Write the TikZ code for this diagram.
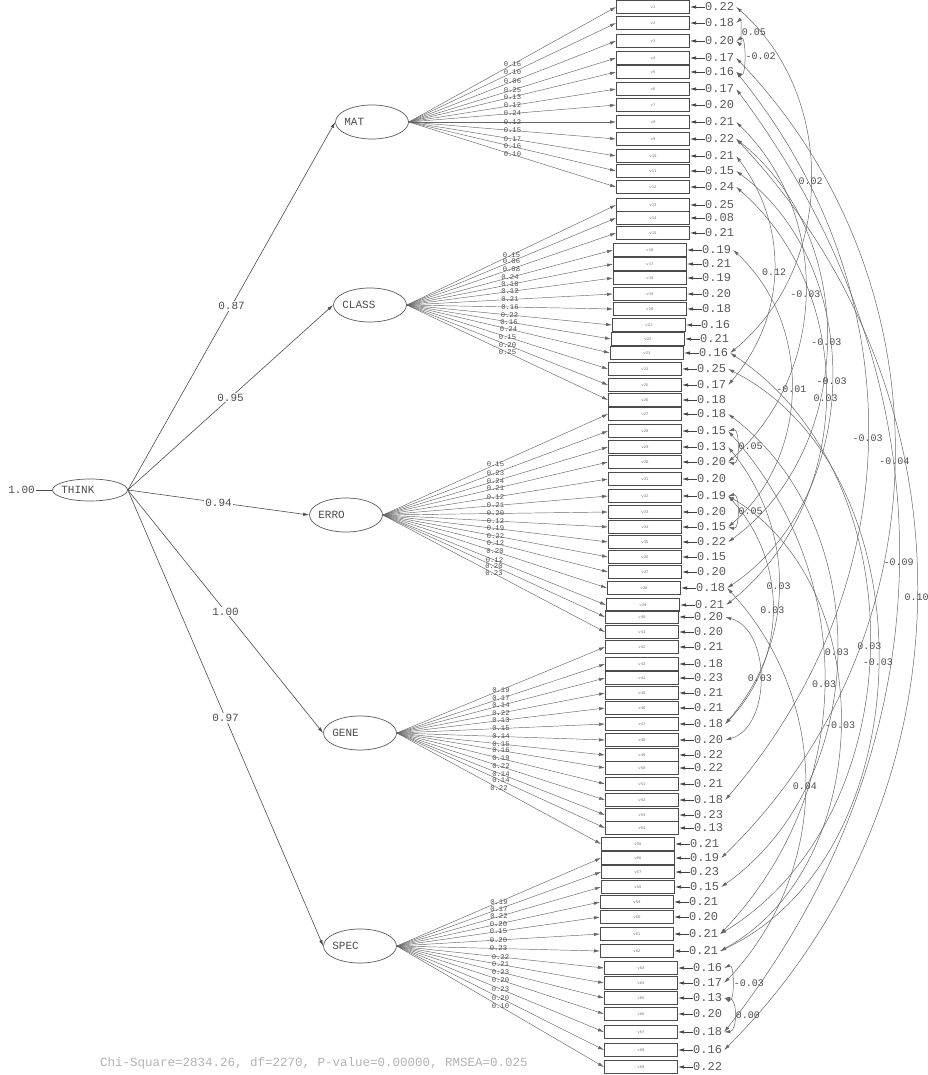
\documentclass[tikz,border=0pt]{standalone}
\usepackage{fontspec}
\newfontfamily\cour{Liberation Mono}
\usetikzlibrary{arrows.meta,shapes.geometric,calc}
\begin{document}
\begin{tikzpicture}[x=1pt,y=-1pt,
  >={Latex[length=6pt,width=3.4pt]},
  latent/.style={draw=black!65,line width=0.7pt,ellipse,minimum width=73pt,minimum height=34pt,inner sep=0pt},
  obsbox/.style={draw=black!70,line width=1pt,rectangle,minimum width=73pt,minimum height=13pt,inner sep=0pt,font=\cour\fontsize{4}{4}\selectfont,text=black!55},
  flab/.style={font=\cour\fontsize{11}{11}\selectfont,text=black!70,anchor=west,inner sep=0pt},
  pathline/.style={draw=black!70,line width=0.6pt,->},
  pathlab/.style={font=\cour\fontsize{11}{11}\selectfont,text=black!70,fill=white,inner sep=1pt},
  loadline/.style={draw=black!60,line width=0.45pt,->},
  loadlab/.style={font=\cour\fontsize{7.2}{7.2}\selectfont,text=black!70,inner sep=0pt},
  reslab/.style={font=\cour\fontsize{12}{12}\selectfont,text=black!65,anchor=west,inner sep=0pt},
  resline/.style={draw=black!75,line width=0.7pt,->},
  covline/.style={draw=black!60,line width=0.5pt,<->},
  covlab/.style={font=\cour\fontsize{10}{10}\selectfont,text=black!70,inner sep=0.5pt},
  sidelab/.style={anchor=west,xshift=1pt}
]
\useasboundingbox (0,0) rectangle (927,1075);

% latent variables
\node[latent,minimum width=75pt,minimum height=22pt] (THINK) at (90,490) {};
\node[flab] (THINKt) at ([xshift=9pt]THINK.west) {THINK};
\node[pathlab,fill=none,anchor=east] (thvar) at (36,490) {1.00};
\draw[draw=black!70,line width=0.6pt] (thvar) -- (THINK);

\node[latent] (MAT) at (372,122) {};
\node[flab] (MATt) at ([xshift=9pt]MAT.west) {MAT};
\node[latent] (CLASS) at (370,305) {};
\node[flab] (CLASSt) at ([xshift=9pt]CLASS.west) {CLASS};
\node[latent] (ERRO) at (346,515) {};
\node[flab] (EROt) at ([xshift=9pt]ERRO.west) {ERRO};
\node[latent] (GENE) at (360,733) {};
\node[flab] (GENEt) at ([xshift=9pt]GENE.west) {GENE};
\node[latent] (SPEC) at (360,946) {};
\node[flab] (SPECt) at ([xshift=9pt]SPEC.west) {SPEC};

\draw[pathline] (THINK.east) -- node[pathlab]{0.87} (MAT.west);
\draw[pathline] (THINK.east) -- node[pathlab]{0.95} (CLASS.west);
\draw[pathline] (THINK.east) -- node[pathlab]{0.94} (ERRO.west);
\draw[pathline] (THINK.east) -- node[pathlab]{1.00} (GENE.west);
\draw[pathline] (THINK.east) -- node[pathlab]{0.97} (SPEC.west);

% observed variables
\foreach \c/\y/\bx/\f/\L/\R in {
0/7/653/MAT/0.16/0.22, 1/23/653/MAT/0.10/0.18, 2/41/653/MAT/0.06/0.20,
3/58/653/MAT/0.25/0.17, 4/72/653/MAT/0.13/0.16, 5/89/653/MAT/0.12/0.17,
6/105/653/MAT/0.24/0.20, 7/122/653/MAT/0.12/0.21, 8/139/653/MAT/0.15/0.22,
9/156/653/MAT/0.17/0.21, 10/171/653/MAT/0.16/0.15, 11/187/653/MAT/0.10/0.24,
12/205/653/CLASS/0.15/0.25, 13/218/653/CLASS/0.06/0.08, 14/233/653/CLASS/0.08/0.21,
15/250/650/CLASS/0.24/0.19, 16/264/650/CLASS/0.18/0.21, 17/278/650/CLASS/0.12/0.19,
18/294/650/CLASS/0.21/0.20, 19/309/650/CLASS/0.16/0.18, 20/325/649/CLASS/0.22/0.16,
21/339/648/CLASS/0.16/0.21, 22/353/647/CLASS/0.24/0.16, 23/369/645/CLASS/0.15/0.25,
24/385/645/CLASS/0.20/0.17, 25/400/645/CLASS/0.25/0.18,
26/414/645/ERRO/0.15/0.18, 27/431/645/ERRO/0.23/0.15, 28/447/645/ERRO/0.24/0.13,
29/462/645/ERRO/0.21/0.20, 30/479/645/ERRO/0.12/0.20, 31/496/645/ERRO/0.21/0.19,
32/512/645/ERRO/0.20/0.20, 33/527/645/ERRO/0.12/0.15, 34/542/645/ERRO/0.19/0.22,
35/557/645/ERRO/0.22/0.15, 36/572/645/ERRO/0.12/0.20, 37/588/644/ERRO/0.20/0.18,
38/605/643/ERRO/0.12/0.21, 39/617/642/ERRO/0.20/0.20, 40/632/642/ERRO/0.23/0.20,
41/647/642/GENE/0.19/0.21, 42/664/642/GENE/0.17/0.18, 43/678/642/GENE/0.14/0.23,
44/693/642/GENE/0.22/0.21, 45/708/642/GENE/0.13/0.21, 46/724/642/GENE/0.15/0.18,
47/740/642/GENE/0.14/0.20, 48/755/642/GENE/0.15/0.22, 49/768/642/GENE/0.16/0.22,
50/784/642/GENE/0.19/0.21, 51/800/642/GENE/0.22/0.18, 52/815/642/GENE/0.14/0.23,
53/828/642/GENE/0.14/0.13, 54/844/638/GENE/0.22/0.21,
55/858/638/SPEC/0.19/0.19, 56/872/638/SPEC/0.17/0.23, 57/887/638/SPEC/0.22/0.15,
58/902/637/SPEC/0.20/0.21, 59/917/637/SPEC/0.15/0.20, 60/934/637/SPEC/0.20/0.21,
61/951/637/SPEC/0.23/0.21, 62/968/641/SPEC/0.22/0.16, 63/983/641/SPEC/0.21/0.17,
64/998/641/SPEC/0.23/0.13, 65/1014/641/SPEC/0.20/0.20, 66/1032/641/SPEC/0.23/0.18,
67/1050/641/SPEC/0.20/0.16, 68/1067/641/SPEC/0.10/0.22}{
  \pgfmathtruncatemacro\vn{\c+1}
  \node[obsbox] (b\c) at (\bx,\y) {v\vn};
  \draw[loadline] (\f.east) -- node[loadlab,pos=0.5]{\L} (b\c.west);
  \node[reslab] (r\c) at ([xshift=15pt]b\c.east) {\R};
  \draw[resline] (r\c.west) -- (b\c.east);
  \coordinate (e\c) at ([xshift=2pt]r\c.east);
}

% error covariances
\newcommand\covarc[5][]{%
  \draw[covline] let \p1=(e#2), \p2=(e#3), \n1={2*atan(2*#4/((\y1)-(\y2)))} in
    (e#2) to[bend left=\n1] node[covlab,#1]{#5} (e#3);
}
\covarc[sidelab]{1}{2}{20}{0.05}
\covarc[sidelab]{2}{4}{28}{-0.02}
\covarc{0}{22}{80}{0.02}
\covarc{9}{24}{40}{0.12}
\covarc{7}{29}{74}{-0.03}
\covarc{8}{34}{100}{-0.03}
\covarc{10}{37}{108}{-0.03}
\covarc{15}{33}{62}{-0.01}
\covarc{11}{38}{98}{0.03}
\covarc{4}{51}{132}{-0.03}
\covarc{3}{55}{165}{-0.04}
\covarc[sidelab]{27}{29}{20}{0.05}
\covarc[sidelab]{31}{33}{20}{0.05}
\covarc{5}{66}{160}{-0.09}
\covarc{8}{67}{185}{0.10}
\covarc{28}{46}{50}{0.03}
\covarc{31}{46}{45}{0.03}
\covarc{26}{57}{120}{0.03}
\covarc{22}{60}{160}{0.03}
\covarc{23}{61}{182}{-0.03}
\covarc{39}{47}{47}{0.03}
\covarc{27}{60}{98}{0.03}
\covarc{31}{61}{132}{-0.03}
\covarc{37}{63}{78}{0.04}
\covarc[sidelab]{62}{64}{24}{-0.03}
\covarc[sidelab]{64}{66}{16}{0.00}

\node[font=\cour\fontsize{12.5}{12.5}\selectfont,text=black!30,anchor=west,inner sep=0pt] (stats) at (100,1063)
  {Chi-Square=2834.26, df=2270, P-value=0.00000, RMSEA=0.025};
\end{tikzpicture}
\end{document}
